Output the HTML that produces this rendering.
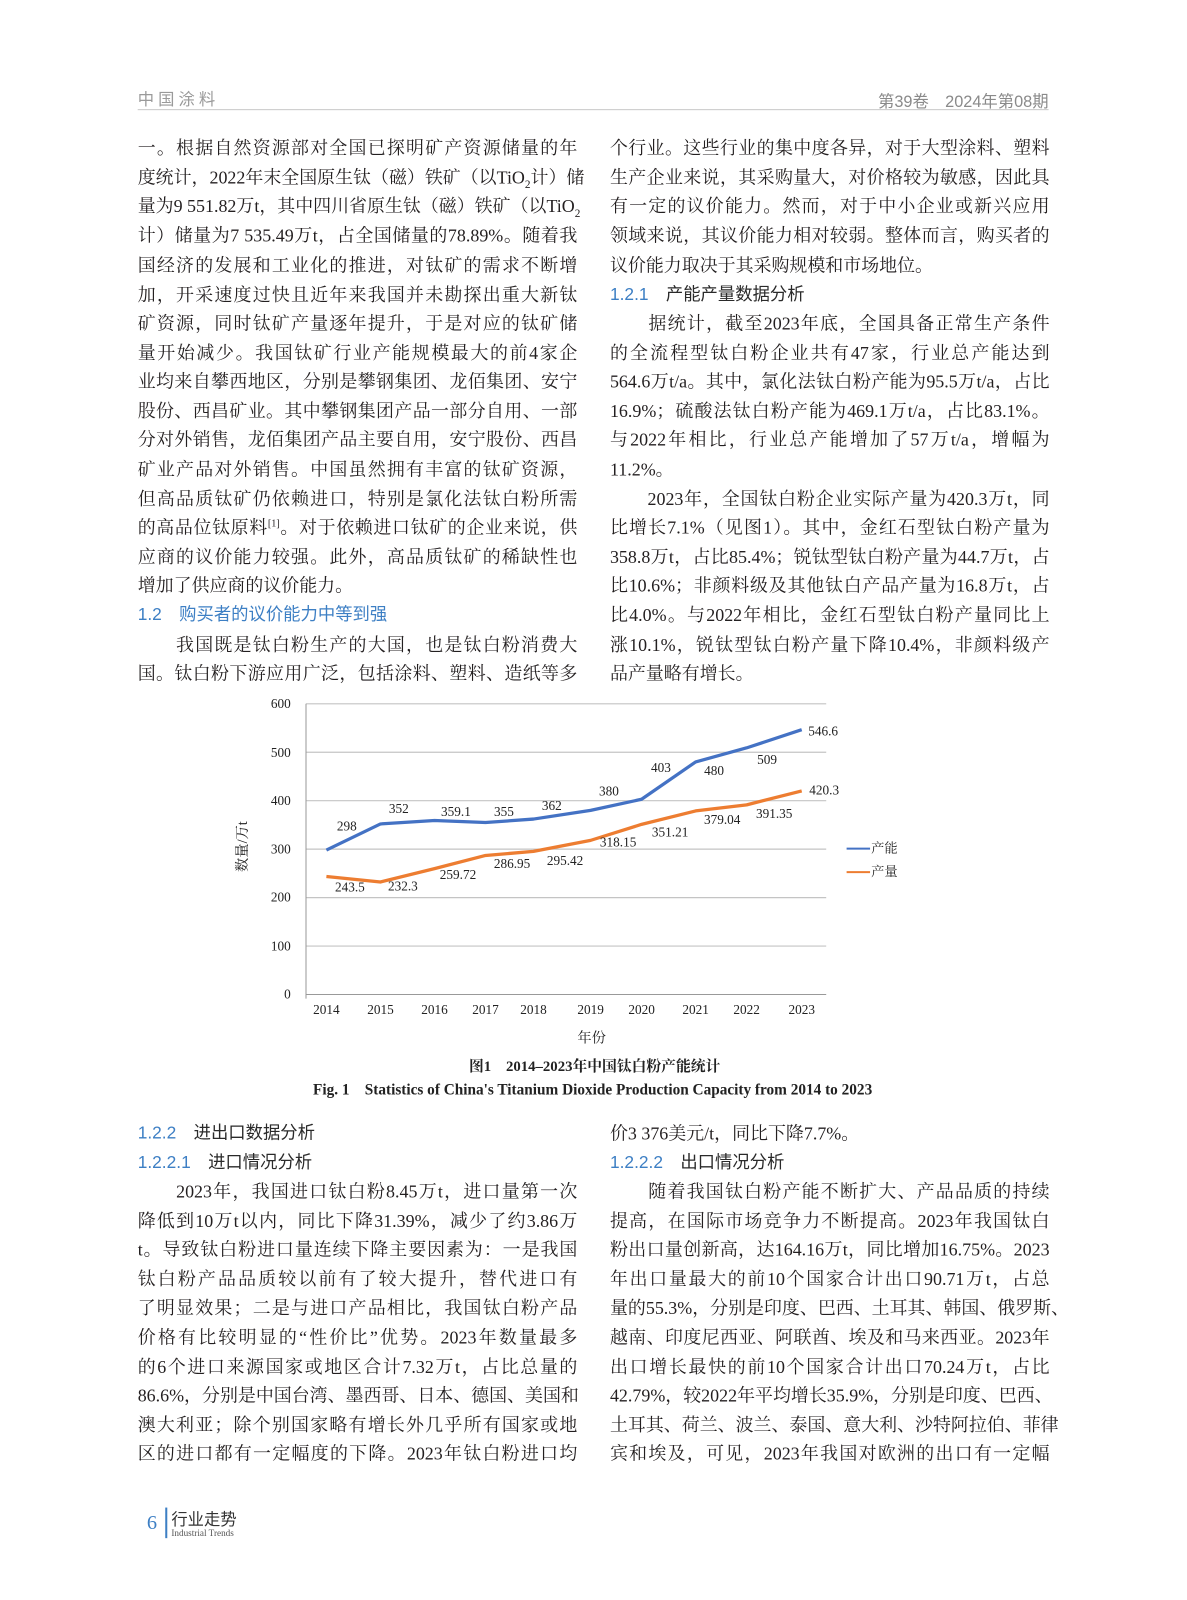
<!DOCTYPE html>
<html><head><meta charset="utf-8">
<style>
body{margin:0;background:#fff;}
#o{position:relative;width:1187px;height:1600px;overflow:hidden;background:#fff;}
#p{position:absolute;left:0;top:0;width:1187px;height:1600px;transform:scale(1.02);transform-origin:0 0;font-family:"Liberation Serif","Noto Serif CJK SC",serif;color:#231f20;}
.l{position:absolute;width:431px;height:24px;font-size:17.6px;line-height:24px;white-space:nowrap;text-align:justify;text-align-last:justify;}
.e{text-align-last:left;}
.h{font-family:"Liberation Sans","Noto Sans CJK SC",sans-serif;color:#3d7fc4;text-align-last:left;font-size:17px;}
.h2{font-family:"Liberation Sans","Noto Sans CJK SC",sans-serif;color:#2a2a2a;text-align-last:left;font-size:17px;}
.h2 b,.h b{font-weight:normal;color:#3d7fc4;}
sub{font-size:11px;line-height:0;}
sup{font-size:10px;line-height:0;}
</style></head><body><div id="o"><div id="p">
<div style="position:absolute;left:135px;top:84px;font-family:'Noto Sans CJK SC',sans-serif;font-size:16px;color:#9a9a9a;letter-spacing:4px;">中国涂料</div>
<div style="position:absolute;right:159px;top:86px;font-family:'Liberation Sans','Noto Sans CJK SC',sans-serif;font-size:16px;color:#8a8a8a;">第39卷　2024年第08期</div>
<div style="position:absolute;left:135px;top:107px;width:893px;height:1px;background:#c8c8c8;"></div>

<div class="l" style="left:135px;top:133px">一。根据自然资源部对全国已探明矿产资源储量的年</div>
<div class="l" style="left:135px;top:162px">度统计，2022年末全国原生钛（磁）铁矿（以TiO<sub>2</sub>计）储</div>
<div class="l" style="left:135px;top:190px">量为9 551.82万t，其中四川省原生钛（磁）铁矿（以TiO<sub>2</sub></div>
<div class="l" style="left:135px;top:219px">计）储量为7 535.49万t，占全国储量的78.89%。随着我</div>
<div class="l" style="left:135px;top:248px">国经济的发展和工业化的推进，对钛矿的需求不断增</div>
<div class="l" style="left:135px;top:277px">加，开采速度过快且近年来我国并未勘探出重大新钛</div>
<div class="l" style="left:135px;top:305px">矿资源，同时钛矿产量逐年提升，于是对应的钛矿储</div>
<div class="l" style="left:135px;top:334px">量开始减少。我国钛矿行业产能规模最大的前4家企</div>
<div class="l" style="left:135px;top:362px">业均来自攀西地区，分别是攀钢集团、龙佰集团、安宁</div>
<div class="l" style="left:135px;top:391px">股份、西昌矿业。其中攀钢集团产品一部分自用、一部</div>
<div class="l" style="left:135px;top:419px">分对外销售，龙佰集团产品主要自用，安宁股份、西昌</div>
<div class="l" style="left:135px;top:448px">矿业产品对外销售。中国虽然拥有丰富的钛矿资源，</div>
<div class="l" style="left:135px;top:477px">但高品质钛矿仍依赖进口，特别是氯化法钛白粉所需</div>
<div class="l" style="left:135px;top:505px">的高品位钛原料<sup>[1]</sup>。对于依赖进口钛矿的企业来说，供</div>
<div class="l" style="left:135px;top:534px">应商的议价能力较强。此外，高品质钛矿的稀缺性也</div>
<div class="l e" style="left:135px;top:562px">增加了供应商的议价能力。</div>
<div class="l h" style="left:135px;top:591px">1.2　购买者的议价能力中等到强</div>
<div class="l" style="left:135px;top:620px">　　我国既是钛白粉生产的大国，也是钛白粉消费大</div>
<div class="l" style="left:135px;top:648px">国。钛白粉下游应用广泛，包括涂料、塑料、造纸等多</div>

<div class="l" style="left:598px;top:133px">个行业。这些行业的集中度各异，对于大型涂料、塑料</div>
<div class="l" style="left:598px;top:162px">生产企业来说，其采购量大，对价格较为敏感，因此具</div>
<div class="l" style="left:598px;top:190px">有一定的议价能力。然而，对于中小企业或新兴应用</div>
<div class="l" style="left:598px;top:219px">领域来说，其议价能力相对较弱。整体而言，购买者的</div>
<div class="l e" style="left:598px;top:248px">议价能力取决于其采购规模和市场地位。</div>
<div class="l h2" style="left:598px;top:277px"><b>1.2.1</b>　产能产量数据分析</div>
<div class="l" style="left:598px;top:305px">　　据统计，截至2023年底，全国具备正常生产条件</div>
<div class="l" style="left:598px;top:334px">的全流程型钛白粉企业共有47家，行业总产能达到</div>
<div class="l" style="left:598px;top:362px">564.6万t/a。其中，氯化法钛白粉产能为95.5万t/a，占比</div>
<div class="l" style="left:598px;top:391px">16.9%；硫酸法钛白粉产能为469.1万t/a，占比83.1%。</div>
<div class="l" style="left:598px;top:419px">与2022年相比，行业总产能增加了57万t/a，增幅为</div>
<div class="l e" style="left:598px;top:448px">11.2%。</div>
<div class="l" style="left:598px;top:477px">　　2023年，全国钛白粉企业实际产量为420.3万t，同</div>
<div class="l" style="left:598px;top:505px">比增长7.1%（见图1）。其中，金红石型钛白粉产量为</div>
<div class="l" style="left:598px;top:534px">358.8万t，占比85.4%；锐钛型钛白粉产量为44.7万t，占</div>
<div class="l" style="left:598px;top:562px">比10.6%；非颜料级及其他钛白产品产量为16.8万t，占</div>
<div class="l" style="left:598px;top:591px">比4.0%。与2022年相比，金红石型钛白粉产量同比上</div>
<div class="l" style="left:598px;top:620px">涨10.1%，锐钛型钛白粉产量下降10.4%，非颜料级产</div>
<div class="l e" style="left:598px;top:648px">品产量略有增长。</div>

<svg style="position:absolute;left:0;top:0" width="1187" height="1100" font-family="Liberation Serif, Noto Serif CJK SC, serif" font-size="13" fill="#222">
<g stroke="#c4c4c4" stroke-width="1.2">
<line x1="300" y1="690" x2="810" y2="690"/><line x1="300" y1="737.5" x2="810" y2="737.5"/><line x1="300" y1="785" x2="810" y2="785"/><line x1="300" y1="832.5" x2="810" y2="832.5"/><line x1="300" y1="880" x2="810" y2="880"/><line x1="300" y1="927.5" x2="810" y2="927.5"/>
</g>
<g stroke="#999" stroke-width="1"><line x1="300" y1="690" x2="300" y2="979"/><line x1="300" y1="975" x2="810" y2="975"/></g>
<g text-anchor="end"><text x="285" y="694">600</text><text x="285" y="742">500</text><text x="285" y="789">400</text><text x="285" y="837">300</text><text x="285" y="884">200</text><text x="285" y="932">100</text><text x="285" y="979">0</text></g>
<g text-anchor="middle"><text x="320" y="994">2014</text><text x="373" y="994">2015</text><text x="426" y="994">2016</text><text x="476" y="994">2017</text><text x="523" y="994">2018</text><text x="579" y="994">2019</text><text x="629" y="994">2020</text><text x="682" y="994">2021</text><text x="732" y="994">2022</text><text x="786" y="994">2023</text>
<text x="580" y="1022" font-size="14">年份</text></g>
<text transform="translate(242,830) rotate(-90)" text-anchor="middle" font-size="14">数量/万t</text>
<polyline fill="none" stroke="#4472c4" stroke-width="3.2" stroke-linejoin="round" points="320,833.4 373,807.8 426,804.4 476,806.4 523,803 579,794.5 629,783.6 682,747 732,733.2 786,715.4"/>
<polyline fill="none" stroke="#ed7d31" stroke-width="3.2" stroke-linejoin="round" points="320,859.3 373,864.7 426,851.6 476,838.7 523,834.7 579,823.9 629,808.2 682,795 732,789.1 786,775.4"/>
<g text-anchor="middle">
<text x="340" y="814">298</text><text x="391" y="797">352</text><text x="447" y="800">359.1</text><text x="494" y="800">355</text><text x="541" y="794">362</text><text x="597" y="780">380</text><text x="648" y="757">403</text><text x="700" y="760">480</text><text x="752" y="749">509</text><text x="807" y="721">546.6</text><text x="808" y="779">420.3</text>
<text x="343" y="874">243.5</text><text x="395" y="873">232.3</text><text x="449" y="862">259.72</text><text x="502" y="851">286.95</text><text x="554" y="848">295.42</text><text x="606" y="830">318.15</text><text x="657" y="820">351.21</text><text x="708" y="808">379.04</text><text x="759" y="802">391.35</text></g>
<line x1="830" y1="832" x2="853" y2="832" stroke="#4472c4" stroke-width="2"/><text x="854" y="836">产能</text>
<line x1="830" y1="855" x2="853" y2="855" stroke="#ed7d31" stroke-width="2"/><text x="854" y="859">产量</text>
<text x="583" y="1050" text-anchor="middle" font-size="14.5" font-weight="bold">图1　2014–2023年中国钛白粉产能统计</text>
<text x="581" y="1073" text-anchor="middle" font-size="15" font-weight="bold">Fig. 1　Statistics of China's Titanium Dioxide Production Capacity from 2014 to 2023</text>
</svg>

<div class="l h2" style="left:135px;top:1099px"><b>1.2.2</b>　进出口数据分析</div>
<div class="l h2" style="left:135px;top:1128px"><b>1.2.2.1</b>　进口情况分析</div>
<div class="l" style="left:135px;top:1156px">　　2023年，我国进口钛白粉8.45万t，进口量第一次</div>
<div class="l" style="left:135px;top:1185px">降低到10万t以内，同比下降31.39%，减少了约3.86万</div>
<div class="l" style="left:135px;top:1213px">t。导致钛白粉进口量连续下降主要因素为：一是我国</div>
<div class="l" style="left:135px;top:1242px">钛白粉产品品质较以前有了较大提升，替代进口有</div>
<div class="l" style="left:135px;top:1270px">了明显效果；二是与进口产品相比，我国钛白粉产品</div>
<div class="l" style="left:135px;top:1299px">价格有比较明显的“性价比”优势。2023年数量最多</div>
<div class="l" style="left:135px;top:1328px">的6个进口来源国家或地区合计7.32万t，占比总量的</div>
<div class="l" style="left:135px;top:1356px">86.6%，分别是中国台湾、墨西哥、日本、德国、美国和</div>
<div class="l" style="left:135px;top:1385px">澳大利亚；除个别国家略有增长外几乎所有国家或地</div>
<div class="l" style="left:135px;top:1413px">区的进口都有一定幅度的下降。2023年钛白粉进口均</div>

<div class="l e" style="left:598px;top:1099px">价3 376美元/t，同比下降7.7%。</div>
<div class="l h2" style="left:598px;top:1128px"><b>1.2.2.2</b>　出口情况分析</div>
<div class="l" style="left:598px;top:1156px">　　随着我国钛白粉产能不断扩大、产品品质的持续</div>
<div class="l" style="left:598px;top:1185px">提高，在国际市场竞争力不断提高。2023年我国钛白</div>
<div class="l" style="left:598px;top:1213px">粉出口量创新高，达164.16万t，同比增加16.75%。2023</div>
<div class="l" style="left:598px;top:1242px">年出口量最大的前10个国家合计出口90.71万t，占总</div>
<div class="l" style="left:598px;top:1270px">量的55.3%，分别是印度、巴西、土耳其、韩国、俄罗斯、</div>
<div class="l" style="left:598px;top:1299px">越南、印度尼西亚、阿联酋、埃及和马来西亚。2023年</div>
<div class="l" style="left:598px;top:1328px">出口增长最快的前10个国家合计出口70.24万t，占比</div>
<div class="l" style="left:598px;top:1356px">42.79%，较2022年平均增长35.9%，分别是印度、巴西、</div>
<div class="l" style="left:598px;top:1385px">土耳其、荷兰、波兰、泰国、意大利、沙特阿拉伯、菲律</div>
<div class="l" style="left:598px;top:1413px">宾和埃及，可见，2023年我国对欧洲的出口有一定幅</div>

<div style="position:absolute;left:144px;top:1482px;font-size:20px;color:#3d7fc4;">6</div>
<div style="position:absolute;left:162px;top:1478px;width:2px;height:30px;background:#3d7fc4;"></div>
<div style="position:absolute;left:168px;top:1476px;font-family:'Noto Sans CJK SC',sans-serif;font-size:16px;color:#333;">行业走势</div>
<div style="position:absolute;left:168px;top:1498px;font-size:9px;color:#555;">Industrial Trends</div>
</div></div></body></html>
